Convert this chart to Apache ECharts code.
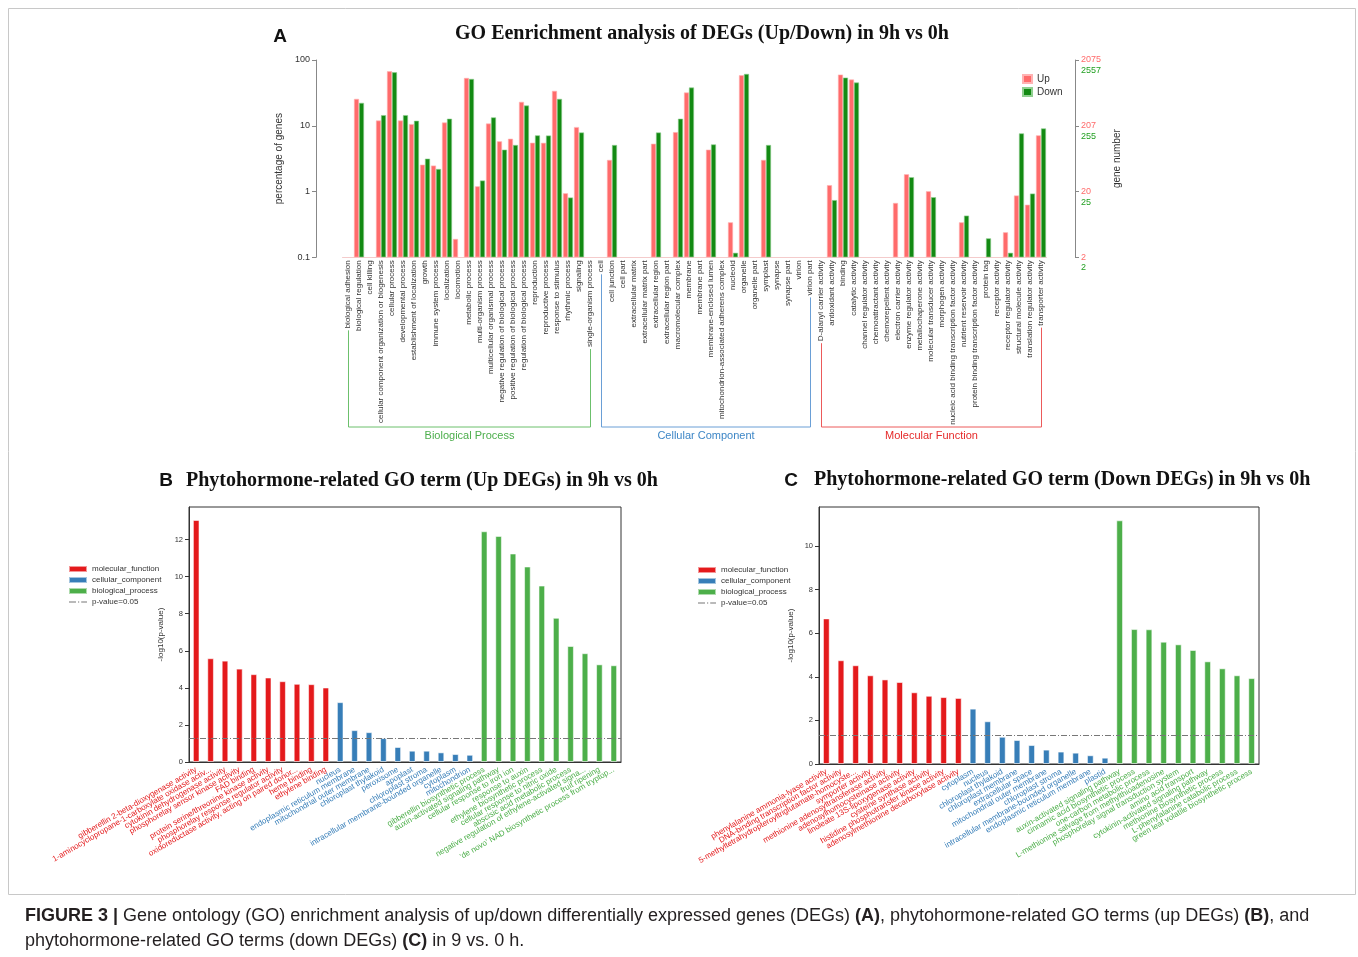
<!DOCTYPE html>
<html><head><meta charset="utf-8">
<script src="https://cdn.jsdelivr.net/npm/echarts@6/dist/echarts.min.js"></script>
<style>html,body{margin:0;padding:0;background:#fff}#c{width:1358px;height:957px}</style>
</head><body><div id="c"></div>
<script>
// ---------- Panel A data ----------
const goCategories = [
 'biological adhesion','biological regulation','cell killing','cellular component organization or biogenesis','cellular process','developmental process','establishment of localization','growth','immune system process','localization','locomotion','metabolic process','multi-organism process','multicellular organismal process','negative regulation of biological process','positive regulation of biological process','regulation of biological process','reproduction','reproductive process','response to stimulus','rhythmic process','signaling','single-organism process',
 'cell','cell junction','cell part','extracellular matrix','extracellular matrix part','extracellular region','extracellular region part','macromolecular complex','membrane','membrane part','membrane-enclosed lumen','mitochondrion-associated adherens complex','nucleoid','organelle','organelle part','symplast','synapse','synapse part','virion','virion part',
 'D-alanyl carrier activity','antioxidant activity','binding','catalytic activity','channel regulator activity','chemoattractant activity','chemorepellent activity','electron carrier activity','enzyme regulator activity','metallochaperone activity','molecular transducer activity','morphogen activity','nucleic acid binding transcription factor activity','nutrient reservoir activity','protein binding transcription factor activity','protein tag','receptor activity','receptor regulator activity','structural molecule activity','translation regulator activity','transporter activity'];
const goGroups = [['Biological Process',23],['Cellular Component',20],['Molecular Function',21]];
const goUp = [
 null,25.6,null,12.0,67.3,12.0,10.6,2.56,2.48,11.2,0.19,53.3,1.2,10.8,5.8,6.35,23.1,5.52,5.5,33.9,0.94,9.55,null,
 null,3.02,null,null,null,5.33,null,8.0,32,null,4.33,null,0.34,58.6,null,3.02,null,null,null,null,
 null,1.25,60,50.4,null,null,null,0.67,1.83,null,1.01,null,null,0.34,null,null,null,0.24,0.87,0.63,7.14];
const goDown = [
 null,22.3,null,14.5,65,14.5,11.9,3.16,2.2,12.8,null,51.5,1.47,13.4,4.33,5.1,20.3,7.14,7.1,25.6,0.81,7.9,null,
 null,5.1,null,null,null,7.9,null,12.8,38.1,null,5.2,null,0.117,61.4,null,5.1,null,null,null,null,
 null,0.74,54,45.4,null,null,null,null,1.65,null,0.82,null,null,0.43,null,0.194,null,0.117,7.65,0.93,9.1];
const leftTicks = ['0.1','1','10','100'];
const rightUpTicks = ['2','20','207','2075'];
const rightDownTicks = ['2','25','255','2557'];

// ---------- Panel B data ----------
const bMFNames = ['gibberellin 2-beta-dioxygenase activity','1-aminocyclopropane-1-carboxylate oxidase activ...','cytokinin dehydrogenase activity','phosphorelay sensor kinase activity','FAD binding','protein serine/threonine kinase activity','phosphorelay response regulator activity','oxidoreductase activity, acting on paired donor...','heme binding','ethylene binding'];
const bCCNames = ['nucleus','endoplasmic reticulum membrane','mitochondrial outer membrane','chloroplast thylakoid','peroxisome','apoplast','chloroplast stroma','intracellular membrane-bounded organelle','cytoplasm','mitochondrion'];
const bBPNames = ['gibberellin biosynthetic process','auxin-activated signaling pathway','cellular response to iron ion','response to auxin','ethylene biosynthetic process','cellular response to nitric oxide','abscisic acid metabolic process','negative regulation of ethylene-activated signa...','fruit ripening',"'de novo' NAD biosynthetic process from tryptop..."];
const bMF = [13.06,5.60,5.47,5.04,4.74,4.56,4.36,4.22,4.20,4.02];
const bCC = [3.23,1.72,1.61,1.29,0.81,0.61,0.61,0.52,0.43,0.39];
const bBP = [12.45,12.2,11.25,10.55,9.52,7.78,6.26,5.87,5.27,5.22];

// ---------- Panel C data ----------
const cMFNames = ['phenylalanine ammonia-lyase activity','DNA-binding transcription factor activity','5-methyltetrahydropteroyltriglutamate-homocyste...','symporter activity','methionine adenosyltransferase activity','adenosylhomocysteinase activity','linoleate 13S-lipoxygenase activity','cysteine synthase activity','histidine phosphotransfer kinase activity','adenosylmethionine decarboxylase activity'];
const cCCNames = ['cytoplasm','nucleus','chloroplast thylakoid','chloroplast membrane','extracellular space','mitochondrial outer membrane','chloroplast stroma','intracellular membrane-bounded organelle','endoplasmic reticulum membrane','plastid'];
const cBPNames = ['auxin-activated signaling pathway','cinnamic acid biosynthetic process','one-carbon metabolic process','L-methionine salvage from methylthioadenosine','phosphorelay signal transduction system','amino acid transport','cytokinin-activated signaling pathway','methionine biosynthetic process','L-phenylalanine catabolic process','green leaf volatile biosynthetic process'];
const cMF = [6.68,4.76,4.53,4.07,3.88,3.76,3.29,3.13,3.07,3.03];
const cCC = [2.54,1.96,1.25,1.10,0.87,0.66,0.57,0.52,0.40,0.29];
const cBP = [11.18,6.19,6.18,5.61,5.49,5.23,4.71,4.39,4.07,3.94];
const pThreshold = 1.301;
const seriesNames = ['molecular_function','cellular_component','biological_process','p-value=0.05'];

// ---------- styles ----------
const RED = '#e41a1c', BLUE = '#377eb8', GREEN = '#4daf4a', PLINE = '#777';
const UPC = '#ff6b6b', DOWNC = '#138a13';
const SANS = '"Liberation Sans", Arial, sans-serif';
const SERIF = '"Liberation Serif", "Times New Roman", serif';

const chart = echarts.init(document.getElementById('c'), null, {renderer: 'canvas'});

function pad(arr, before, after) {
  return Array(before).fill(null).concat(arr, Array(after).fill(null));
}
function colorMap(mf, cc, bp) {
  const m = {};
  mf.forEach(n => m[n] = RED); cc.forEach(n => m[n] = BLUE); bp.forEach(n => m[n] = GREEN);
  return m;
}
const bCats = bMFNames.concat(bCCNames, bBPNames);
const cCats = cMFNames.concat(cCCNames, cBPNames);
const bColors = colorMap(bMFNames, bCCNames, bBPNames);
const cColors = colorMap(cMFNames, cCCNames, cBPNames);

function phytoX(idx, cats, cmap) {
  return {
    type: 'category', gridIndex: idx, data: cats,
    axisLine: {lineStyle: {color: '#333', width: 1}},
    axisTick: {alignWithLabel: true, length: 4, lineStyle: {color: '#333'}},
    axisLabel: {interval: 0, rotate: 30, fontSize: 8, fontFamily: SANS, margin: 7,
      color: (v) => cmap[v] || '#333'}
  };
}
function phytoY(idx, max) {
  return {
    type: 'value', gridIndex: idx, min: 0, max: max, interval: 2,
    name: '-log10(p-value)', nameLocation: 'middle', nameGap: 24,
    nameTextStyle: {fontSize: 8, fontFamily: SANS, color: '#333'},
    axisLine: {show: true, lineStyle: {color: '#333'}},
    axisTick: {show: true, length: 4, lineStyle: {color: '#333'}},
    axisLabel: {fontSize: 7.5, fontFamily: SANS, color: '#333', margin: 6, showMaxLabel: false},
    splitLine: {show: false}
  };
}
function phytoSeries(xi, yi, mf, cc, bp) {
  const common = {type: 'bar', xAxisIndex: xi, yAxisIndex: yi, stack: 'p' + xi, barWidth: '46%',
    silent: true};
  return [
    Object.assign({name: seriesNames[0], data: pad(mf, 0, 20), itemStyle: {color: RED, borderColor: 'rgba(255,255,255,0.55)', borderWidth: 1}}, common),
    Object.assign({name: seriesNames[1], data: pad(cc, 10, 10), itemStyle: {color: BLUE, borderColor: 'rgba(255,255,255,0.55)', borderWidth: 1}}, common),
    Object.assign({name: seriesNames[2], data: pad(bp, 20, 0), itemStyle: {color: GREEN, borderColor: 'rgba(255,255,255,0.55)', borderWidth: 1}}, common),
    {name: seriesNames[3], type: 'line', xAxisIndex: xi, yAxisIndex: yi, data: [], symbol: 'none', silent: true,
      color: PLINE, itemStyle: {color: PLINE},
      lineStyle: {color: PLINE, width: 1, type: [6, 2, 1, 2]},
      markLine: {symbol: 'none', silent: true, label: {show: false},
        lineStyle: {color: PLINE, width: 1, type: [6, 2, 1, 2]},
        data: [{yAxis: pThreshold}]}}
  ];
}
const dashIcon = 'path://M0,2.6h7v0.8h-7z M9,2.6h1.2v0.8h-1.2z M12.2,2.6h5.8v0.8h-5.8z M0,0h0.01v0.01h-0.01z M18,6h-0.01v-0.01h0.01z';
function phytoLegend(left, top) {
  return {left: left, top: top, orient: 'vertical', itemWidth: 18, itemHeight: 6, itemGap: 3,
    data: seriesNames.map((n, i) => i < 3 ? {name: n, icon: 'rect'} : {name: n, icon: dashIcon, itemStyle: {color: PLINE}}),
    textStyle: {fontSize: 8, fontFamily: SANS, color: '#333'}, selectedMode: false};
}

const option = {
  animation: false,
  backgroundColor: '#fff',
  grid: [
    {left: 342.5, top: 60, width: 704, height: 197.3},
    {left: 189, top: 507, width: 432, height: 255, show: true, borderColor: '#333', borderWidth: 1},
    {left: 819, top: 507, width: 440, height: 257, show: true, borderColor: '#333', borderWidth: 1}
  ],
  legend: [
    {left: 1017, top: 69, orient: 'vertical', itemWidth: 9, itemHeight: 8, itemGap: 3, selectedMode: false,
      data: [{name: 'Up', icon: 'rect'}, {name: 'Down', icon: 'rect'}],
      textStyle: {fontSize: 10, fontFamily: SANS, color: '#333'}},
    phytoLegend(63, 560),
    phytoLegend(692, 561)
  ],
  xAxis: [
    {type: 'category', gridIndex: 0, data: goCategories,
      axisLine: {show: true, lineStyle: {color: 'rgba(235,160,160,0.55)', width: 1}},
      axisTick: {show: false},
      axisLabel: {interval: 0, rotate: 90, fontSize: 8, fontFamily: SANS, color: '#333', margin: 3}},
    phytoX(1, bCats, bColors),
    phytoX(2, cCats, cColors)
  ],
  yAxis: [
    {type: 'log', gridIndex: 0, logBase: 10, min: 0.1, max: 100, startValue: 0.1, offset: 26.5,
      name: 'percentage of genes', nameLocation: 'middle', nameGap: 25,
      nameTextStyle: {fontSize: 10, fontFamily: SANS, color: '#333'},
      axisLine: {show: true, lineStyle: {color: '#888'}},
      axisTick: {show: true, length: 4, lineStyle: {color: '#888'}},
      axisLabel: {fontSize: 9, fontFamily: SANS, color: '#333', margin: 6,
        formatter: v => leftTicks[Math.round(Math.log10(v)) + 1]},
      splitLine: {show: false}},
    {type: 'log', gridIndex: 0, logBase: 10, min: 0.1, max: 100, position: 'right', offset: 28.5,
      name: 'gene number', nameLocation: 'middle', nameGap: 28,
      nameTextStyle: {fontSize: 10, fontFamily: SANS, color: '#333'},
      axisLine: {show: true, lineStyle: {color: '#888'}},
      axisTick: {show: true, length: 4, lineStyle: {color: '#888'}},
      axisLabel: {fontSize: 9, fontFamily: SANS, color: '#ff6b6b', margin: 6,
        formatter: v => rightUpTicks[Math.round(Math.log10(v)) + 1]},
      splitLine: {show: false}},
    {type: 'log', gridIndex: 0, logBase: 10, min: 0.1, max: 100, position: 'right', offset: 28.5,
      axisLine: {show: false}, axisTick: {show: false},
      axisLabel: {fontSize: 9, fontFamily: SANS, color: '#22a022', margin: 6, verticalAlign: 'top', padding: [6, 0, 0, 0],
        formatter: v => rightDownTicks[Math.round(Math.log10(v)) + 1]},
      splitLine: {show: false}},
    phytoY(1, 13.76),
    phytoY(2, 11.79)
  ],
  series: [
    {name: 'Up', type: 'bar', xAxisIndex: 0, yAxisIndex: 0, data: goUp, barWidth: 5, barGap: '0%', silent: true,
      itemStyle: {color: UPC, borderColor: '#ffb3b3', borderWidth: 0.6}},
    {name: 'Down', type: 'bar', xAxisIndex: 0, yAxisIndex: 0, data: goDown, barWidth: 5, barGap: '0%', silent: true,
      itemStyle: {color: DOWNC, borderColor: '#8fcf8f', borderWidth: 0.6}}
  ].concat(phytoSeries(1, 3, bMF, bCC, bBP), phytoSeries(2, 4, cMF, cCC, cBP))
};
chart.setOption(option);

// ---------- annotations: titles, brackets, caption ----------
const measureCtx = document.createElement('canvas').getContext('2d');
function textW(t, font) { measureCtx.font = font; return measureCtx.measureText(t).width; }
const labelFont = '8px ' + SANS;
const baseY = chart.convertToPixel({yAxisIndex: 0}, 0.1);
const bracketY = 427;
const bracketColors = ['#6cc06c', '#6a9fd6', '#ec5a5a'];
const bracketTextColors = ['#4cae4c', '#3d86c6', '#e52a2a'];
const graphics = [];
let start = 0;
goGroups.forEach((g, gi) => {
  const a = goCategories[start], b = goCategories[start + g[1] - 1];
  const x0 = Math.round(chart.convertToPixel({xAxisIndex: 0}, a)) + 0.5;
  const x1 = Math.round(chart.convertToPixel({xAxisIndex: 0}, b)) + 0.5;
  const y0 = baseY + 3 + textW(a, labelFont) + 2;
  const y1 = baseY + 3 + textW(b, labelFont) + 2;
  graphics.push({type: 'polyline', silent: true,
    shape: {points: [[x0, y0], [x0, bracketY], [x1, bracketY], [x1, y1]]},
    style: {stroke: bracketColors[gi], lineWidth: 1, fill: null}});
  graphics.push({type: 'text', silent: true, x: (x0 + x1) / 2, y: 436,
    style: {text: g[0], fill: bracketTextColors[gi], font: '11px ' + SANS, textAlign: 'center', textVerticalAlign: 'middle'}});
  start += g[1];
});
function txt(t, x, y, font, fill, align) {
  return {type: 'text', silent: true, x: x, y: y,
    style: {text: t, font: font, fill: fill || '#111', textAlign: align || 'left', textVerticalAlign: 'middle'}};
}
graphics.push(txt('A', 280, 37, 'bold 19px ' + SANS, '#111', 'center'));
graphics.push(txt('GO Eenrichment analysis of DEGs (Up/Down) in 9h vs 0h', 702, 34, 'bold 20px ' + SERIF, '#111', 'center'));
graphics.push(txt('B', 166, 481, 'bold 19px ' + SANS, '#111', 'center'));
graphics.push(txt('Phytohormone-related GO term (Up DEGs) in 9h vs 0h', 186, 481, 'bold 20px ' + SERIF));
graphics.push(txt('C', 791, 481, 'bold 19px ' + SANS, '#111', 'center'));
graphics.push(txt('Phytohormone-related GO term (Down DEGs) in 9h vs 0h', 814, 480, 'bold 20px ' + SERIF));
graphics.push({type: 'rect', silent: true, shape: {x: 8.5, y: 8.5, width: 1347, height: 886},
  style: {stroke: '#c8c8c8', lineWidth: 1, fill: null}});
const capRich = {b: {fontWeight: 'bold', fontSize: 18, fontFamily: SANS, fill: '#231f20'}};
graphics.push({type: 'text', silent: true, x: 25, y: 916,
  style: {text: '{b|FIGURE 3 |} Gene ontology (GO) enrichment analysis of up/down differentially expressed genes (DEGs) {b|(A)}, phytohormone-related GO terms (up DEGs) {b|(B)}, and',
    font: '18px ' + SANS, fill: '#231f20', textVerticalAlign: 'middle', rich: capRich}});
graphics.push({type: 'text', silent: true, x: 25, y: 941,
  style: {text: 'phytohormone-related GO terms (down DEGs) {b|(C)} in 9 vs. 0 h.',
    font: '18px ' + SANS, fill: '#231f20', textVerticalAlign: 'middle', rich: capRich}});
chart.setOption({graphic: graphics});
</script></body></html>
